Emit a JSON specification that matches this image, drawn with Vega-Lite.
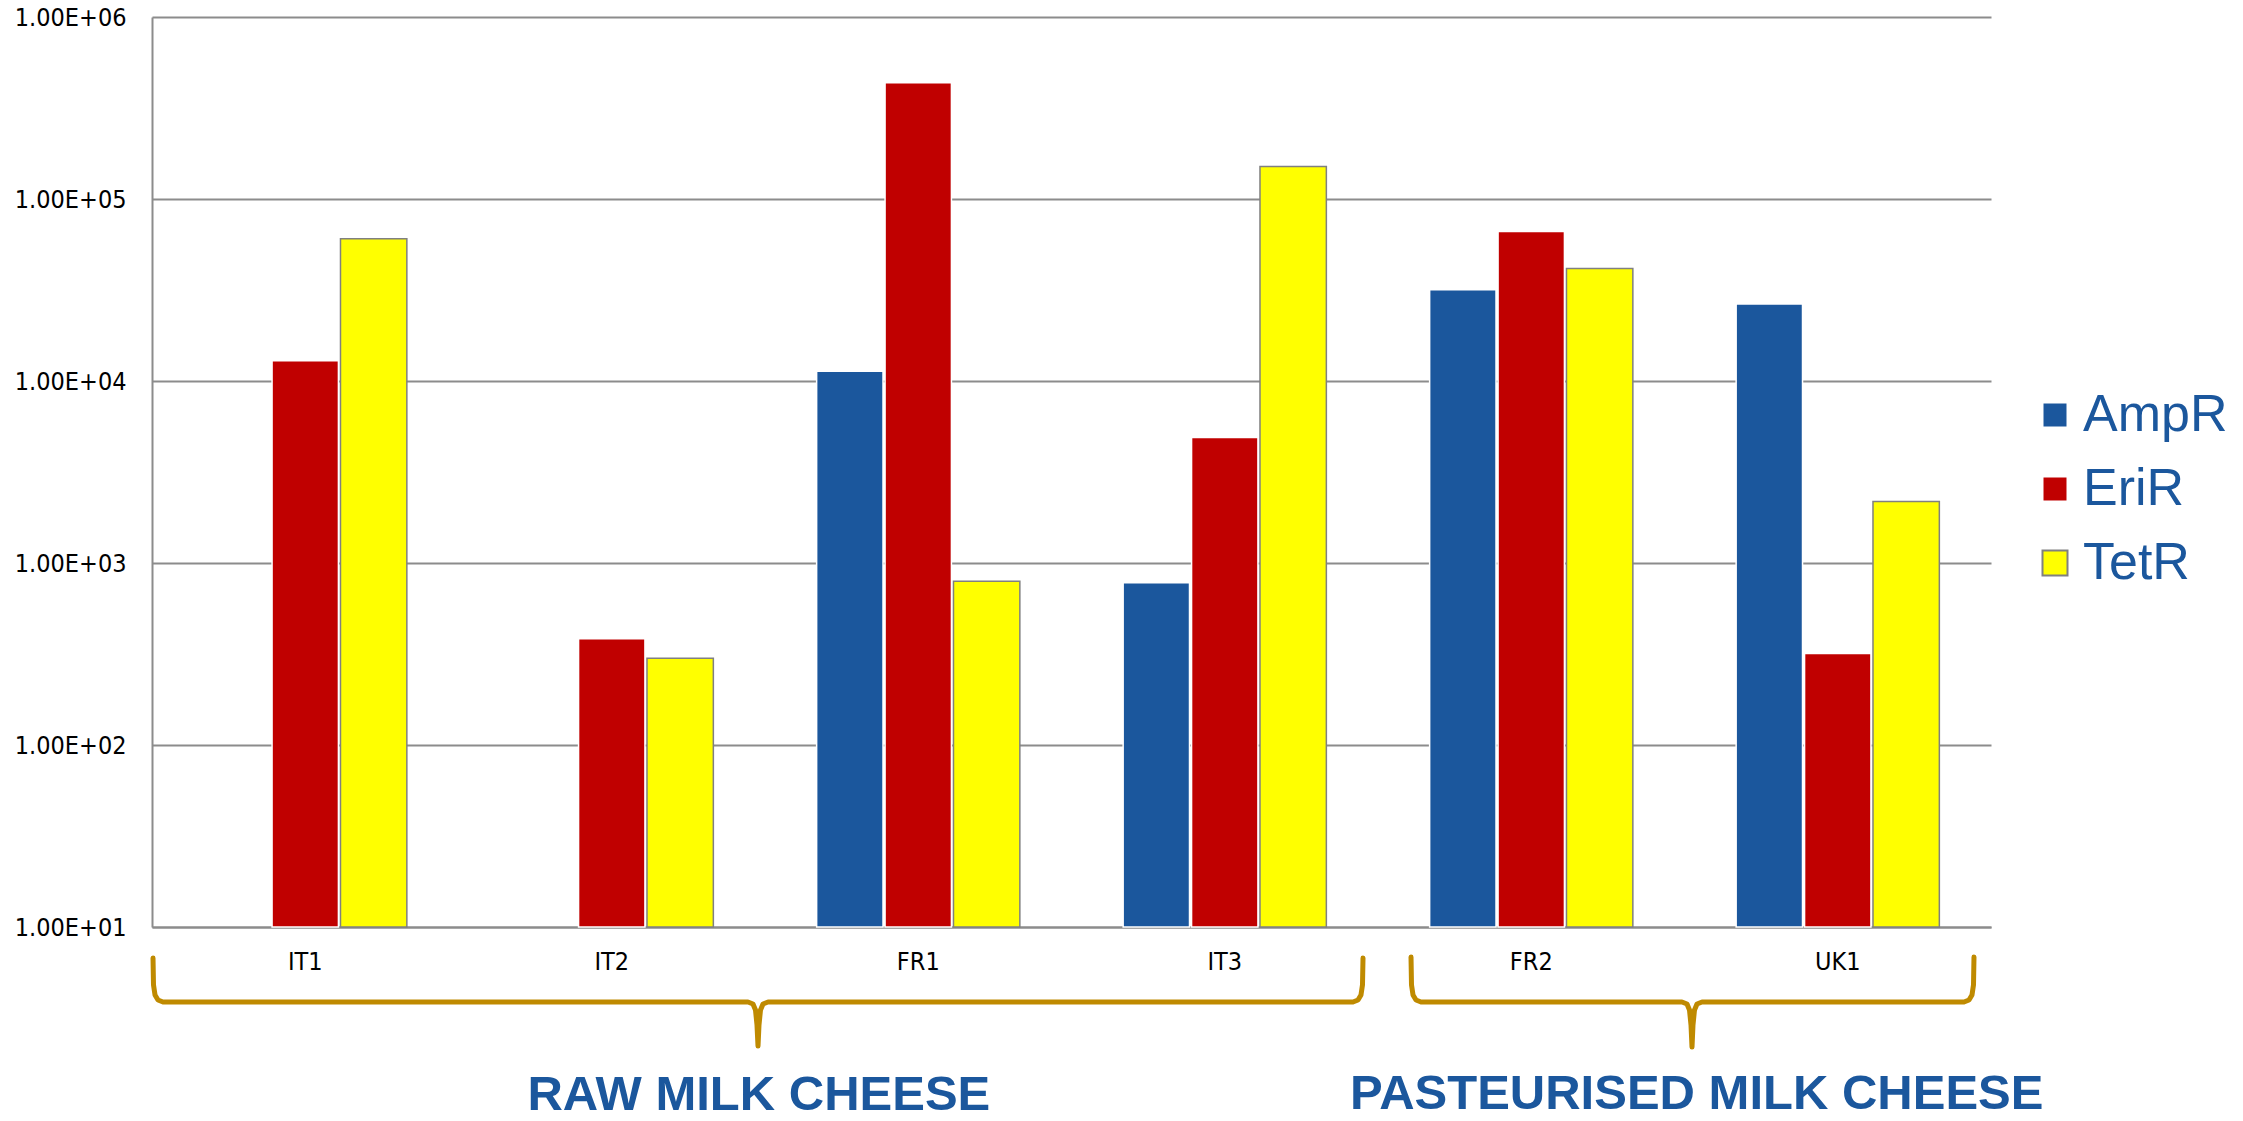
{
  "$schema": "https://vega.github.io/schema/vega-lite/v6.json",
  "width": 1839,
  "height": 910,
  "autosize": {"type": "none"},
  "padding": {"left": 152, "top": 17, "right": 252, "bottom": 194},
  "background": "white",
  "config": {
    "view": {"stroke": null},
    "legend": {
      "orient": "none",
      "legendX": 1877,
      "legendY": 372,
      "symbolType": "square",
      "symbolSize": 625,
      "symbolStrokeWidth": 2,
      "labelFont": "Liberation Sans",
      "labelFontSize": 52,
      "labelColor": "#1B579D",
      "rowPadding": 22,
      "labelOffset": 2
    }
  },
  "datasets": {
    "bars": [
      {"sample": "IT1", "gene": "EriR", "count": 12900},
      {"sample": "IT1", "gene": "TetR", "count": 60400},
      {"sample": "IT2", "gene": "EriR", "count": 383},
      {"sample": "IT2", "gene": "TetR", "count": 300},
      {"sample": "FR1", "gene": "AmpR", "count": 11300},
      {"sample": "FR1", "gene": "EriR", "count": 435000},
      {"sample": "FR1", "gene": "TetR", "count": 793},
      {"sample": "IT3", "gene": "AmpR", "count": 780},
      {"sample": "IT3", "gene": "EriR", "count": 4900},
      {"sample": "IT3", "gene": "TetR", "count": 151000},
      {"sample": "FR2", "gene": "AmpR", "count": 31700},
      {"sample": "FR2", "gene": "EriR", "count": 66300},
      {"sample": "FR2", "gene": "TetR", "count": 41500},
      {"sample": "UK1", "gene": "AmpR", "count": 26500},
      {"sample": "UK1", "gene": "EriR", "count": 318},
      {"sample": "UK1", "gene": "TetR", "count": 2180}
    ],
    "braces": [
      {"brace": "raw", "i": 0, "u": 0.0033, "v": -3.41},
      {"brace": "raw", "i": 1, "u": 0.0049, "v": -6.37},
      {"brace": "raw", "i": 2, "u": 0.0098, "v": -7.47},
      {"brace": "raw", "i": 3, "u": 0.0196, "v": -8.02},
      {"brace": "raw", "i": 4, "u": 0.0359, "v": -8.24},
      {"brace": "raw", "i": 5, "u": 1.9445, "v": -8.24},
      {"brace": "raw", "i": 6, "u": 1.9608, "v": -8.46},
      {"brace": "raw", "i": 7, "u": 1.969, "v": -9.12},
      {"brace": "raw", "i": 8, "u": 1.9739, "v": -10.77},
      {"brace": "raw", "i": 9, "u": 1.9772, "v": -13.08},
      {"brace": "raw", "i": 10, "u": 1.9804, "v": -10.77},
      {"brace": "raw", "i": 11, "u": 1.9853, "v": -9.12},
      {"brace": "raw", "i": 12, "u": 1.9935, "v": -8.46},
      {"brace": "raw", "i": 13, "u": 2.0098, "v": -8.24},
      {"brace": "raw", "i": 14, "u": 3.9184, "v": -8.24},
      {"brace": "raw", "i": 15, "u": 3.9347, "v": -8.02},
      {"brace": "raw", "i": 16, "u": 3.9445, "v": -7.47},
      {"brace": "raw", "i": 17, "u": 3.9494, "v": -6.37},
      {"brace": "raw", "i": 18, "u": 3.9511, "v": -3.41},
      {"brace": "past", "i": 0, "u": 4.1077, "v": -3.3},
      {"brace": "past", "i": 1, "u": 4.1093, "v": -6.37},
      {"brace": "past", "i": 2, "u": 4.1142, "v": -7.47},
      {"brace": "past", "i": 3, "u": 4.124, "v": -8.02},
      {"brace": "past", "i": 4, "u": 4.1403, "v": -8.24},
      {"brace": "past", "i": 5, "u": 4.9918, "v": -8.24},
      {"brace": "past", "i": 6, "u": 5.0082, "v": -8.46},
      {"brace": "past", "i": 7, "u": 5.0163, "v": -9.12},
      {"brace": "past", "i": 8, "u": 5.0212, "v": -10.77},
      {"brace": "past", "i": 9, "u": 5.0245, "v": -13.19},
      {"brace": "past", "i": 10, "u": 5.0277, "v": -10.77},
      {"brace": "past", "i": 11, "u": 5.0326, "v": -9.12},
      {"brace": "past", "i": 12, "u": 5.0408, "v": -8.46},
      {"brace": "past", "i": 13, "u": 5.0571, "v": -8.24},
      {"brace": "past", "i": 14, "u": 5.9119, "v": -8.24},
      {"brace": "past", "i": 15, "u": 5.9282, "v": -8.02},
      {"brace": "past", "i": 16, "u": 5.938, "v": -7.47},
      {"brace": "past", "i": 17, "u": 5.9429, "v": -6.37},
      {"brace": "past", "i": 18, "u": 5.9445, "v": -3.3}
    ],
    "groups": [
      {"label": "RAW MILK CHEESE", "u": 1.98, "v": -20.1},
      {"label": "PASTEURISED MILK CHEESE", "u": 5.04, "v": -20.0}
    ]
  },
  "layer": [
    {
      "data": {"name": "bars"},
      "mark": {"type": "bar", "strokeWidth": 1.5},
      "encoding": {
        "x": {
          "field": "sample",
          "type": "nominal",
          "sort": ["IT1", "IT2", "FR1", "IT3", "FR2", "UK1"],
          "scale": {"paddingInner": 0.337, "paddingOuter": 0.1685},
          "axis": {
            "title": null,
            "ticks": false,
            "labelAngle": 0,
            "domainColor": "#8C8C8C",
            "domainWidth": 2,
            "labelFont": "'DejaVu Sans Condensed', 'Liberation Sans Narrow', 'DejaVu Sans', sans-serif",
            "labelFontSize": 25,
            "labelColor": "#000000",
            "labelPadding": 22
          }
        },
        "xOffset": {
          "field": "gene",
          "type": "nominal",
          "sort": ["AmpR", "EriR", "TetR"],
          "scale": {"paddingInner": 0.03, "paddingOuter": 0}
        },
        "y": {
          "field": "count",
          "type": "quantitative",
          "scale": {"type": "log", "domain": [10, 1000000], "nice": false},
          "axis": {
            "title": null,
            "values": [10, 100, 1000, 10000, 100000, 1000000],
            "labelExpr": "'1.00E+0' + format(log(datum.value) / LN10, '.0f')",
            "ticks": false,
            "grid": true,
            "gridColor": "#8C8C8C",
            "gridWidth": 2,
            "domainColor": "#8C8C8C",
            "domainWidth": 2,
            "labelFont": "'DejaVu Sans Condensed', 'Liberation Sans Narrow', 'DejaVu Sans', sans-serif",
            "labelFontSize": 25,
            "labelColor": "#000000",
            "labelPadding": 26
          }
        },
        "y2": {"datum": 10},
        "color": {
          "field": "gene",
          "type": "nominal",
          "title": null,
          "scale": {"domain": ["AmpR", "EriR", "TetR"], "range": ["#1B579D", "#C00000", "#FFFF00"]}
        },
        "stroke": {
          "field": "gene",
          "type": "nominal",
          "title": null,
          "scale": {"domain": ["AmpR", "EriR", "TetR"], "range": ["#FFFFFF", "#FFFFFF", "#808080"]}
        }
      }
    },
    {
      "data": {"name": "braces"},
      "mark": {"type": "line", "color": "#BF8A00", "strokeWidth": 5, "strokeCap": "round", "strokeJoin": "round", "interpolate": "linear", "clip": false},
      "encoding": {
        "x": {"field": "u", "type": "quantitative", "scale": {"domain": [0, 6], "nice": false, "zero": false}, "axis": null},
        "y": {"field": "v", "type": "quantitative", "scale": {"domain": [0, 100], "nice": false, "zero": false}, "axis": null},
        "detail": {"field": "brace", "type": "nominal"},
        "order": {"field": "i", "type": "quantitative"}
      }
    },
    {
      "data": {"name": "groups"},
      "mark": {"type": "text", "font": "Liberation Sans", "fontWeight": "bold", "fontSize": 49, "color": "#1B579D", "baseline": "alphabetic", "align": "center", "clip": false},
      "encoding": {
        "x": {"field": "u", "type": "quantitative", "scale": {"domain": [0, 6], "nice": false, "zero": false}, "axis": null},
        "y": {"field": "v", "type": "quantitative", "scale": {"domain": [0, 100], "nice": false, "zero": false}, "axis": null},
        "text": {"field": "label", "type": "nominal"}
      }
    }
  ],
  "resolve": {"scale": {"x": "independent", "y": "independent"}}
}
